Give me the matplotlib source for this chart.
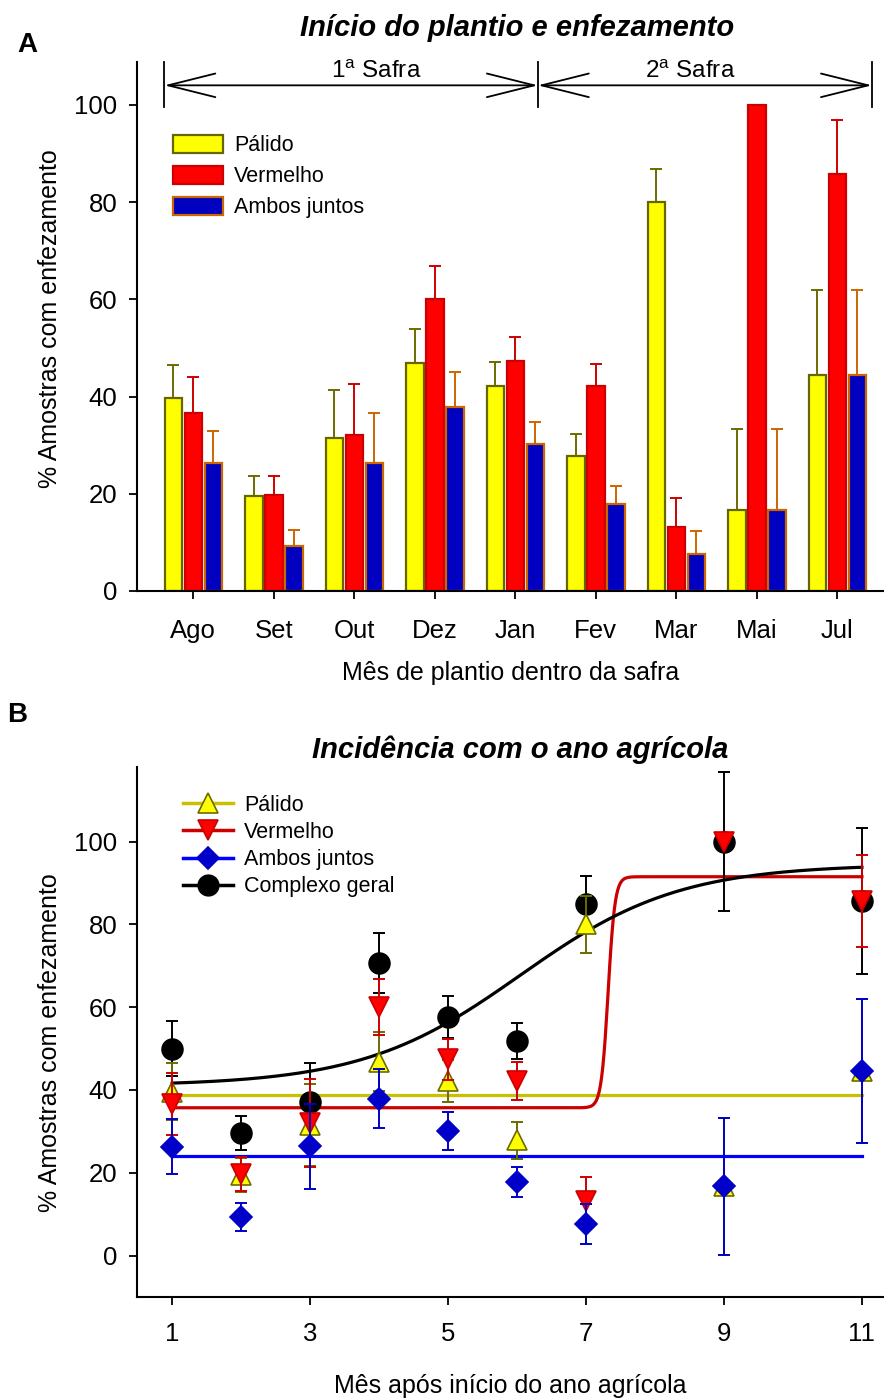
import numpy as np
import matplotlib
matplotlib.use('Agg')
import matplotlib.pyplot as plt
from matplotlib.lines import Line2D

plt.rcParams['font.family'] = ['Liberation Sans', 'DejaVu Sans']
plt.rcParams['mathtext.fontset'] = 'custom'
plt.rcParams['mathtext.rm'] = 'Liberation Sans'
plt.rcParams['mathtext.it'] = 'Liberation Sans:italic'

# ---------------- data ----------------
months = ['Ago', 'Set', 'Out', 'Dez', 'Jan', 'Fev', 'Mar', 'Mai', 'Jul']
month_num = [1, 2, 3, 4, 5, 6, 7, 9, 11]

palido = [39.6, 19.5, 31.5, 46.8, 42.2, 27.8, 80.0, 16.7, 44.5]
palido_err = [6.9, 4.1, 9.9, 7.1, 5.0, 4.4, 6.8, 16.6, 17.4]
vermelho = [36.6, 19.7, 32.0, 60.0, 47.4, 42.1, 13.2, 100.0, 85.7]
vermelho_err = [7.4, 4.0, 10.6, 6.8, 4.9, 4.6, 5.9, 0.0, 11.1]
ambos = [26.3, 9.3, 26.4, 37.9, 30.2, 17.8, 7.6, 16.7, 44.5]
ambos_err = [6.6, 3.3, 10.3, 7.2, 4.6, 3.7, 4.8, 16.6, 17.4]
complexo = [50.0, 29.6, 37.0, 70.6, 57.6, 51.8, 84.8, 100.0, 85.7]
complexo_err = [6.7, 4.1, 9.6, 7.2, 5.0, 4.3, 6.8, 16.7, 17.6]

# fitted model parameters (panel B)
palido_fit_level = 38.7
ambos_fit_level = 24.0
verm_fit = dict(low=35.7, high=91.5, x0=7.32, s=0.05)
comp_fit = dict(low=41.0, high=94.5, x0=6.05, s=1.15)

safra_labels = ['1$^{\\rm a}$ Safra', '2$^{\\rm a}$ Safra']

W, H = 884, 1400
fig = plt.figure(figsize=(W / 100, H / 100), dpi=100)

TICK_FS = 18.5
LAB_FS = 18
LEG_FS = 15.5
TITLE_FS = 21


def style_axes(ax, xpad=12):
    for s in ['top', 'right']:
        ax.spines[s].set_visible(False)
    for s in ['left', 'bottom']:
        ax.spines[s].set_linewidth(1.5)
    ax.tick_params(axis='both', direction='out', length=6, width=1.3,
                   labelsize=TICK_FS)
    ax.tick_params(axis='x', pad=xpad)
    ax.tick_params(axis='y', pad=8)


# ---------------- panel A ----------------
axA = fig.add_axes([137 / W, 1 - 591 / H, 747 / W, 529 / H])
x = np.arange(len(months))
off = 0.248
bw = 0.217
series_A = [
    (palido, palido_err, '#FFFF00', '#666600', '#6B6B00', 'Pálido', -off),
    (vermelho, vermelho_err, '#FF0000', '#CC0000', '#CC0000', 'Vermelho', 0.0),
    (ambos, ambos_err, '#0000C0', '#CC6600', '#CC6600', 'Ambos juntos', off),
]
for vals, err, fc, ec, erc, lab, o in series_A:
    axA.errorbar(x + o, vals, yerr=[np.zeros(len(vals)), err], fmt='none',
                 ecolor=erc, elinewidth=1.4, capsize=4, capthick=1.4, zorder=1)
    axA.bar(x + o, vals, width=bw, color=fc, edgecolor=ec, linewidth=1.6,
            label=lab, zorder=2)

axA.set_xlim(-0.70, 8.58)
axA.set_ylim(0, 108.8)
axA.set_yticks([0, 20, 40, 60, 80, 100])
axA.set_xticks(x)
axA.set_xticklabels(months)
style_axes(axA, xpad=14)
axA.set_xlabel('Mês de plantio dentro da safra', fontsize=LAB_FS, labelpad=13)
axA.set_ylabel('% Amostras com enfezamento', fontsize=LAB_FS)
axA.yaxis.set_label_coords(-0.100, 0.515)

# safra arrows
xa0, xa1, xa2 = -0.36, 4.28, 8.43
ya = 104.0
for xv in (xa0, xa1, xa2):
    axA.plot([xv, xv], [99.5, 108.8], color='black', lw=1.3, clip_on=False,
             zorder=3)
for (p, q) in [(xa0, xa1), (xa1, xa2)]:
    axA.annotate('', xy=(q, ya), xytext=(p, ya),
                 arrowprops=dict(arrowstyle='<->,head_length=34,head_width=8.5',
                                 mutation_scale=1, lw=1.3, color='black',
                                 shrinkA=0, shrinkB=0), annotation_clip=False)
axA.text(2.27, 104.5, safra_labels[0], ha='center', va='bottom', fontsize=17.5)
axA.text(6.17, 104.5, safra_labels[1], ha='center', va='bottom', fontsize=17.5)

axA.legend(loc='upper left', bbox_to_anchor=(173 / W, 1 - 135 / H),
           bbox_transform=fig.transFigure, frameon=False, fontsize=LEG_FS,
           handlelength=2.3, handleheight=0.9, handletextpad=0.55,
           labelspacing=0.45, borderpad=0, borderaxespad=0)

fig.text(517 / W, 1 - 28 / H, 'Início do plantio e enfezamento', ha='center',
         va='center', fontsize=TITLE_FS, fontweight='bold', fontstyle='italic')
fig.text(27 / W, 1 - 45 / H, 'A', ha='center', va='center', fontsize=20,
         fontweight='bold')

# ---------------- panel B ----------------
axB = fig.add_axes([137 / W, 1 - 1297 / H, 747 / W, 530 / H])
xs = np.linspace(1, 11, 600)


def logistic(xx, low, high, x0, s):
    return low + (high - low) / (1 + np.exp(-(xx - x0) / s))


axB.plot([1, 11], [palido_fit_level, palido_fit_level], color='#C8C000', lw=2.3,
         zorder=2)
axB.plot([1, 11], [ambos_fit_level, ambos_fit_level], color='#0000FF', lw=2.3,
         zorder=2)
axB.plot(xs, logistic(xs, **verm_fit), color='#CC0000', lw=2.3, zorder=2)
axB.plot(xs, logistic(xs, **comp_fit), color='black', lw=2.3, zorder=2)

mx = np.array(month_num)
series_B = [
    (complexo, complexo_err, 'o', 'black', 'black', 'black', 15),
    (palido, palido_err, '^', '#FFFF00', '#6B6B00', '#6B6B00', 14),
    (vermelho, vermelho_err, 'v', '#FF0000', '#CC0000', '#CC0000', 14.5),
    (ambos, ambos_err, 'D', '#0000C8', '#0000C8', '#0000C8', 11.5),
]
for i, (vals, err, mk, mfc, mec, erc, ms) in enumerate(series_B):
    axB.errorbar(mx, vals, yerr=err, fmt='none', ecolor=erc, elinewidth=1.4,
                 capsize=4, capthick=1.4, zorder=3 + i)
    axB.plot(mx, vals, linestyle='none', marker=mk, ms=ms, mfc=mfc, mec=mec,
             mew=1.2, zorder=3.5 + i)

axB.set_xlim(0.49, 11.32)
axB.set_ylim(-10, 118)
axB.set_xticks([1, 3, 5, 7, 9, 11])
axB.set_yticks([0, 20, 40, 60, 80, 100])
style_axes(axB, xpad=12)
axB.set_xlabel('Mês após início do ano agrícola', fontsize=LAB_FS, labelpad=20)
axB.set_ylabel('% Amostras com enfezamento', fontsize=LAB_FS)
axB.yaxis.set_label_coords(-0.100, 0.48)

handles = [
    Line2D([], [], color='#C8C000', lw=2.5, marker='^', ms=14, mfc='#FFFF00',
           mec='#6B6B00', mew=1.2),
    Line2D([], [], color='#CC0000', lw=2.5, marker='v', ms=14.5, mfc='#FF0000',
           mec='#CC0000', mew=1.2),
    Line2D([], [], color='#0000FF', lw=2.5, marker='D', ms=11.5, mfc='#0000C8',
           mec='#0000C8', mew=1.2),
    Line2D([], [], color='black', lw=2.5, marker='o', ms=15, mfc='black',
           mec='black'),
]
labels = ['Pálido', 'Vermelho', 'Ambos juntos', 'Complexo geral']
axB.legend(handles, labels, loc='upper left',
           bbox_to_anchor=(183 / W, 1 - 795 / H), bbox_transform=fig.transFigure,
           frameon=False, fontsize=LEG_FS, handlelength=2.3, handletextpad=0.55,
           labelspacing=0.28, borderpad=0, borderaxespad=0, numpoints=1)

fig.text(520 / W, 1 - 750 / H, 'Incidência com o ano agrícola', ha='center',
         va='center', fontsize=TITLE_FS, fontweight='bold', fontstyle='italic')
fig.text(17 / W, 1 - 715 / H, 'B', ha='center', va='center', fontsize=20,
         fontweight='bold')

fig.savefig('out.png', dpi=100)
